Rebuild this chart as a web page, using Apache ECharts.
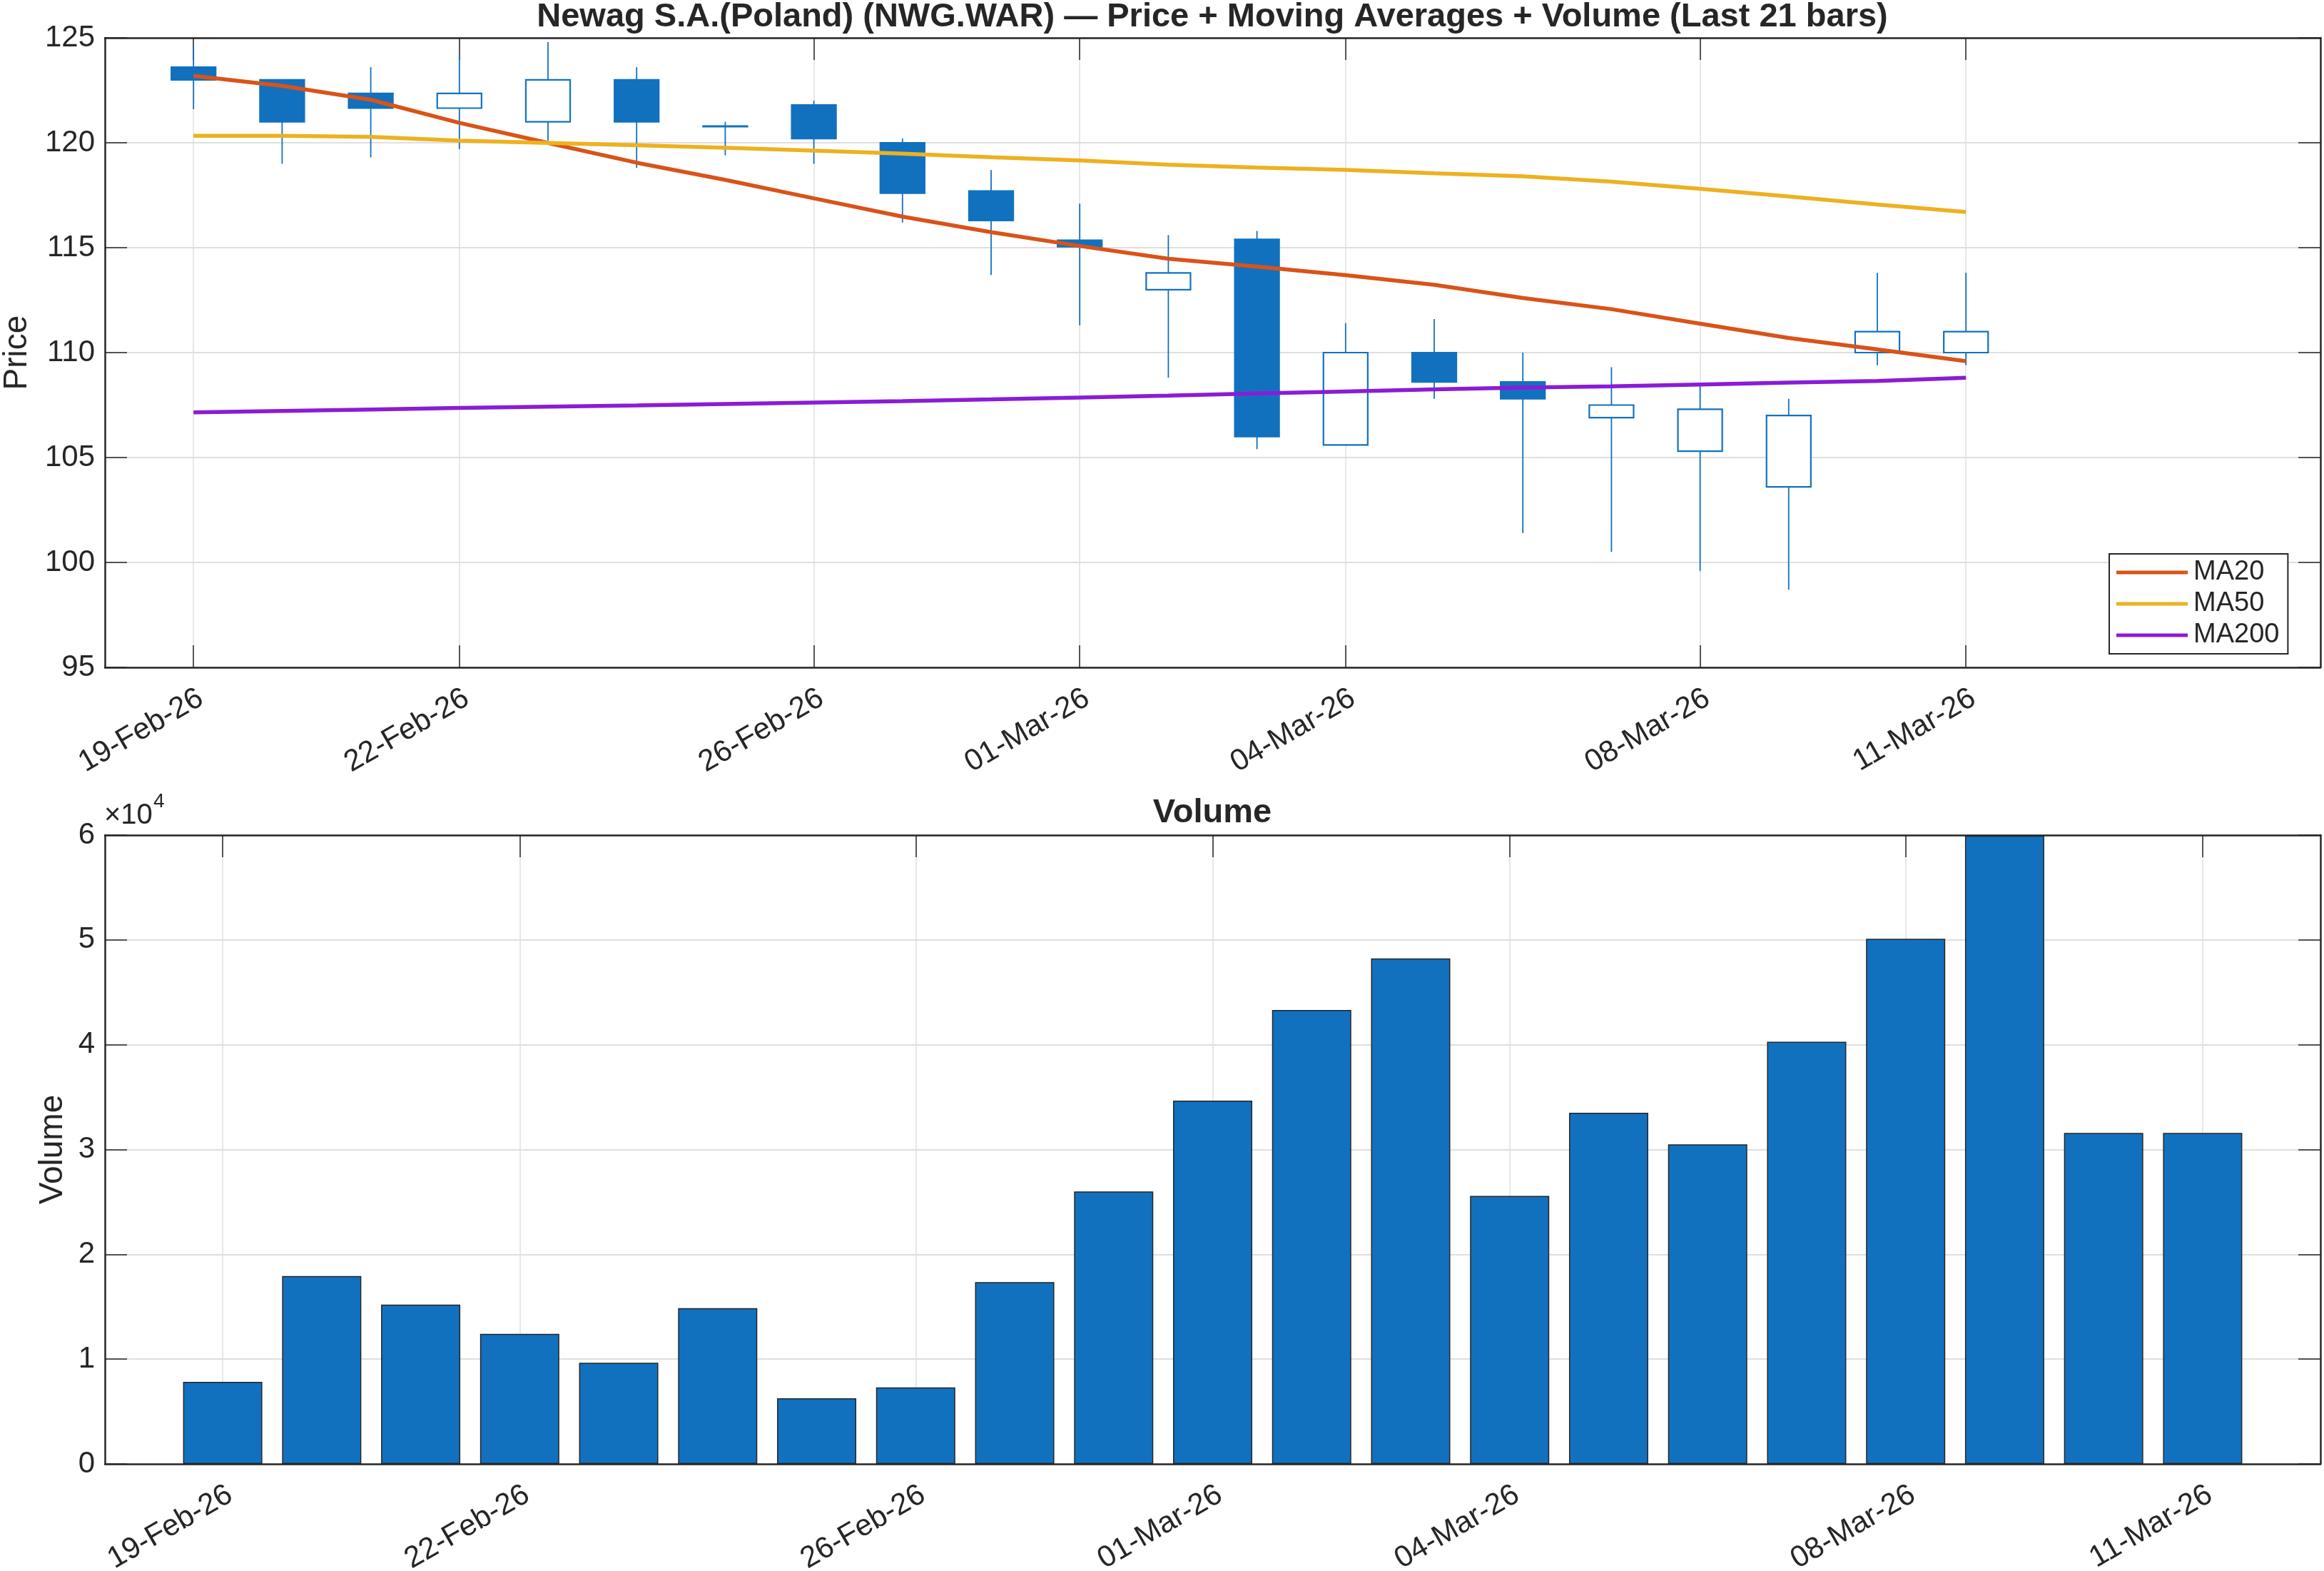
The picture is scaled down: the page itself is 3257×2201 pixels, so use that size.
<!DOCTYPE html>
<html>
<head>
<meta charset="utf-8">
<title>NWG.WAR price and volume</title>
<script src="https://cdn.jsdelivr.net/npm/echarts@6/dist/echarts.min.js"></script>
<style>
    html, body { margin: 0; padding: 0; background: #ffffff; }
    #main { width: 3257px; height: 2201px; }
</style>
</head>
<body>
<div id="main"></div>
<script>
// 21 daily bars, 19-Feb-26 .. 11-Mar-26
var dates = ['19-Feb-26', '20-Feb-26', '21-Feb-26', '22-Feb-26', '23-Feb-26', '24-Feb-26', '25-Feb-26',
    '26-Feb-26', '27-Feb-26', '28-Feb-26', '01-Mar-26', '02-Mar-26', '03-Mar-26', '04-Mar-26',
    '05-Mar-26', '06-Mar-26', '07-Mar-26', '08-Mar-26', '09-Mar-26', '10-Mar-26', '11-Mar-26'];
var tickDays = [0, 3, 7, 10, 13, 17, 20];

var openP = [123.6, 123.0, 122.35, 121.65, 121.0, 123.0, 120.8, 121.8, 120.0, 117.7, 115.35,
    113.0, 115.4, 105.6, 110.0, 108.6, 106.9, 105.3, 103.6, 110.0, 110.0];
var closeP = [123.0, 121.0, 121.65, 122.35, 123.0, 121.0, 120.8, 120.2, 117.6, 116.3, 115.05,
    113.8, 106.0, 110.0, 108.6, 107.8, 107.5, 107.3, 107.0, 111.0, 111.0];
var lowP = [121.6, 119.0, 119.3, 119.7, 120.1, 118.8, 119.4, 119.0, 116.2, 113.7, 111.3,
    108.8, 105.4, 105.6, 107.8, 101.4, 100.5, 99.6, 98.7, 109.4, 109.4];
var highP = [124.6, 123.0, 123.6, 124.2, 124.8, 123.6, 121.0, 122.0, 120.2, 118.7, 117.1,
    115.6, 115.8, 111.4, 111.6, 110.0, 109.3, 108.5, 107.8, 113.8, 113.8];

var ma20 = [123.19, 122.71, 122.05, 120.95, 119.99, 119.05, 118.23, 117.35, 116.48, 115.74, 115.08,
    114.47, 114.1, 113.69, 113.23, 112.6, 112.07, 111.38, 110.7, 110.15, 109.59];
var ma50 = [120.33, 120.33, 120.28, 120.1, 119.99, 119.88, 119.76, 119.63, 119.48, 119.31, 119.16,
    118.95, 118.82, 118.71, 118.55, 118.4, 118.15, 117.81, 117.44, 117.06, 116.7];
var ma200 = [107.15, 107.22, 107.29, 107.36, 107.42, 107.48, 107.55, 107.62, 107.69, 107.77, 107.86,
    107.95, 108.05, 108.15, 108.25, 108.33, 108.39, 108.48, 108.57, 108.65, 108.8];

var volume = [7830, 17920, 15200, 12420, 9650, 14870, 6260, 7310, 17350, 26000, 34660,
    43310, 48230, 25570, 33510, 30500, 40290, 50100, 59950, 31590, 31590];

var FONT = 'Liberation Sans, Arial, Helvetica, sans-serif';
var INK = '#262626';
var BLUE = '#1271BE';
var GRIDC = '#DFDFDF';

var candleData = dates.map(function (d, i) {
    return [i, openP[i], closeP[i], lowP[i], highP[i]];
});
function pairs(arr) {
    return arr.map(function (v, i) { return [i, v]; });
}

function renderCandle(params, api) {
    var x = api.value(0);
    var o = api.value(1), c = api.value(2);
    var hi = api.coord([x, api.value(4)]);
    var lo = api.coord([x, api.value(3)]);
    var bt = api.coord([x, Math.max(o, c)]);
    var bb = api.coord([x, Math.min(o, c)]);
    var w = api.size([0.5, 0])[0];
    var hollow = c >= o;
    return {
        type: 'group',
        children: [{
            type: 'line',
            shape: { x1: hi[0], y1: hi[1], x2: lo[0], y2: lo[1] },
            style: { stroke: BLUE, lineWidth: 1.8 }
        }, {
            type: 'rect',
            shape: { x: bt[0] - w / 2, y: bt[1], width: w, height: Math.max(bb[1] - bt[1], 1) },
            style: { fill: hollow ? '#ffffff' : BLUE, stroke: BLUE, lineWidth: 2.2 }
        }]
    };
}

function dateLabel(v) {
    return dates[Math.round(v)];
}

function xAxes(grid, min, max) {
    return [{
        gridIndex: grid, type: 'value', position: 'bottom', min: min, max: max,
        axisLine: { show: true, onZero: false, lineStyle: { color: INK, width: 2.5 } },
        axisTick: { show: true, inside: true, length: 31, customValues: tickDays, lineStyle: { color: INK, width: 1.5 } },
        axisLabel: { customValues: tickDays, formatter: dateLabel, rotate: 30, margin: 22,
            align: 'right', verticalAlign: 'top',
            fontFamily: FONT, fontSize: 42, color: INK },
        splitLine: { show: true, lineStyle: { color: GRIDC, width: 1.5 } }
    }, {
        gridIndex: grid, type: 'value', position: 'top', min: min, max: max,
        axisLine: { show: true, onZero: false, lineStyle: { color: INK, width: 2.5 } },
        axisTick: { show: true, inside: true, length: 31, customValues: tickDays, lineStyle: { color: INK, width: 1.5 } },
        axisLabel: { show: false },
        splitLine: { show: false }
    }];
}

function yAxes(grid, min, max, step, name, gap, fmt) {
    return [{
        gridIndex: grid, type: 'value', position: 'left', min: min, max: max, interval: step,
        name: name, nameLocation: 'middle', nameGap: gap,
        nameTextStyle: { fontFamily: FONT, fontSize: 46, color: INK },
        axisLine: { show: true, onZero: false, lineStyle: { color: INK, width: 2.5 } },
        axisTick: { show: true, inside: true, length: 31, lineStyle: { color: INK, width: 1.5 } },
        axisLabel: { margin: 14, fontFamily: FONT, fontSize: 42, color: INK, formatter: fmt },
        splitLine: { show: true, lineStyle: { color: GRIDC, width: 2 } }
    }, {
        gridIndex: grid, type: 'value', position: 'right', min: min, max: max, interval: step,
        axisLine: { show: true, onZero: false, lineStyle: { color: INK, width: 2.5 } },
        axisTick: { show: true, inside: true, length: 31, lineStyle: { color: INK, width: 1.5 } },
        axisLabel: { show: false },
        splitLine: { show: false }
    }];
}

var chart = echarts.init(document.getElementById('main'));

chart.setOption({
    animation: false,
    backgroundColor: '#ffffff',
    grid: [
        { left: 147, top: 53, width: 3105, height: 882, containLabel: false, outerBoundsMode: 'none' },
        { left: 147, top: 1170, width: 3105, height: 881, containLabel: false, outerBoundsMode: 'none' }
    ],
    xAxis: xAxes(0, -1, 24).concat(xAxes(1, -1.19, 21.19)),
    yAxis: yAxes(0, 95, 125, 5, 'Price', 100, null)
        .concat(yAxes(1, 0, 60000, 10000, 'Volume', 50, function (v) { return v / 10000; })),
    legend: {
        data: ['MA20', 'MA50', 'MA200'],
        orient: 'vertical',
        left: 2956, top: 776,
        icon: 'rect', itemWidth: 100, itemHeight: 5, itemGap: 6,
        padding: [7, 12, 7, 10],
        backgroundColor: '#ffffff',
        borderColor: INK, borderWidth: 2, borderRadius: 0,
        textStyle: { fontFamily: FONT, fontSize: 38, color: INK, padding: [0, 0, 0, 3] }
    },
    graphic: [
        { type: 'text', x: 1699, y: 24, z: 10,
          style: { text: 'Newag S.A.(Poland) (NWG.WAR) \u2014 Price + Moving Averages + Volume (Last 21 bars)',
              font: 'bold 47px ' + FONT, fill: INK, align: 'center', verticalAlign: 'middle',
              textAlign: 'center', textVerticalAlign: 'middle' } },
        { type: 'text', x: 1699, y: 1139, z: 10,
          style: { text: 'Volume', font: 'bold 47px ' + FONT, fill: INK, align: 'center', verticalAlign: 'middle',
              textAlign: 'center', textVerticalAlign: 'middle' } },
        { type: 'text', x: 146, y: 1143, z: 10,
          style: { text: '\u00d710', font: '40px ' + FONT, fill: INK, align: 'left', verticalAlign: 'middle',
              textAlign: 'left', textVerticalAlign: 'middle' } },
        { type: 'text', x: 215, y: 1123, z: 10,
          style: { text: '4', font: '28px ' + FONT, fill: INK, align: 'left', verticalAlign: 'middle',
              textAlign: 'left', textVerticalAlign: 'middle' } }
    ],
    series: [{
        name: 'Price',
        type: 'custom',
        xAxisIndex: 0, yAxisIndex: 0,
        renderItem: renderCandle,
        encode: { x: 0, y: [1, 2, 3, 4] },
        data: candleData,
        z: 3
    }, {
        name: 'MA20', type: 'line', xAxisIndex: 0, yAxisIndex: 0,
        data: pairs(ma20), showSymbol: false, symbol: 'none', z: 4,
        color: '#D95319', lineStyle: { width: 5.5, color: '#D95319' }
    }, {
        name: 'MA50', type: 'line', xAxisIndex: 0, yAxisIndex: 0,
        data: pairs(ma50), showSymbol: false, symbol: 'none', z: 4,
        color: '#EDB120', lineStyle: { width: 5.5, color: '#EDB120' }
    }, {
        name: 'MA200', type: 'line', xAxisIndex: 0, yAxisIndex: 0,
        data: pairs(ma200), showSymbol: false, symbol: 'none', z: 4,
        color: '#8A1CD6', lineStyle: { width: 5.5, color: '#8A1CD6' }
    }, {
        name: 'Volume', type: 'bar', xAxisIndex: 2, yAxisIndex: 2,
        data: pairs(volume), barWidth: '80%',
        itemStyle: { color: BLUE, borderColor: INK, borderWidth: 1.5 }
    }]
});
</script>
</body>
</html>
